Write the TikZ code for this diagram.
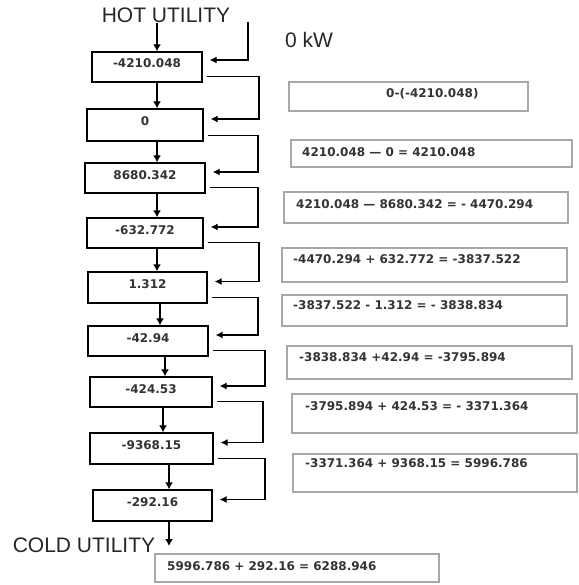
\documentclass[tikz,border=0pt]{standalone}
\usepackage{fontspec}
\setmainfont{Liberation Sans}
\newfontfamily\numfont{DejaVu Sans}
\usetikzlibrary{arrows.meta,positioning,calc}
\definecolor{NumText}{HTML}{333333}
\definecolor{EqGray}{HTML}{A8A8A8}

\begin{document}
\begin{tikzpicture}[x=1pt,y=-1pt,>=Latex,
  every node/.style={inner sep=0pt},
  cascbox/.style={draw=black, line width=1.3pt, font=\numfont\bfseries\fontsize{12}{14}\selectfont, text=NumText, text height=9pt, text depth=7pt},
  eqbox/.style={draw=EqGray, line width=1.2pt},
  eqtext/.style={anchor=west, font=\numfont\bfseries\fontsize{12}{14}\selectfont, text=NumText, text height=9pt, text depth=0pt},
  utiltext/.style={font=\fontsize{21}{25}\selectfont, text=black!85},
  arr/.style={-{Latex[length=7pt,width=8pt]}, line width=1.3pt},
  feed/.style={-{Latex[length=7pt,width=7pt]}, line width=1.1pt}]
  \useasboundingbox (0,0) rectangle (578,585);
  % utilities
  \node[utiltext] (hot) at (166,15) {HOT UTILITY};
  \node[utiltext] (cold) at (84,545) {COLD UTILITY};
  \node[utiltext] (zero) at (309,40) {0 kW};
  % cascade of intervals
  \node[cascbox, minimum width=110, minimum height=30] (b1) at (147,67) {-4210.048};
  \node[cascbox, minimum width=116, minimum height=32] (b2) at (145,125) {0};
  \node[cascbox, minimum width=120, minimum height=30] (b3) at (145,178) {8680.342};
  \node[cascbox, minimum width=116, minimum height=30] (b4) at (145,233) {-632.772};
  \node[cascbox, minimum width=119, minimum height=31] (b5) at (147.5,287.5) {1.312};
  \node[cascbox, minimum width=120, minimum height=30] (b6) at (148,341) {-42.94};
  \node[cascbox, minimum width=122, minimum height=30] (b7) at (151,392) {-424.53};
  \node[cascbox, minimum width=123, minimum height=31] (b8) at (151.5,448.5) {-9368.15};
  \node[cascbox, minimum width=119, minimum height=31] (b9) at (152.5,505.5) {-292.16};
  % heat balance boxes
  \node[eqbox, minimum width=239, minimum height=29] (r1) at (408.5,96.5) {};
  \node[eqbox, minimum width=281, minimum height=27] (r2) at (431.5,153.5) {};
  \node[eqbox, minimum width=284, minimum height=31] (r3) at (426,207.5) {};
  \node[eqbox, minimum width=285, minimum height=34] (r4) at (424.5,265) {};
  \node[eqbox, minimum width=285, minimum height=31] (r5) at (424.5,310.5) {};
  \node[eqbox, minimum width=285, minimum height=33] (r6) at (429.5,362.5) {};
  \node[eqbox, minimum width=285, minimum height=39] (r7) at (434.5,413.5) {};
  \node[eqbox, minimum width=284, minimum height=38] (r8) at (435,473) {};
  \node[eqbox, minimum width=284, minimum height=28] (r9) at (297,568) {};
  \node[eqtext] (t1) at (386,93) {0-(-4210.048)};
  \node[eqtext] (t2) at (302,152) {4210.048 — 0 = 4210.048};
  \node[eqtext] (t3) at (296,204) {4210.048 — 8680.342 = - 4470.294};
  \node[eqtext] (t4) at (293,259) {-4470.294 + 632.772 = -3837.522};
  \node[eqtext] (t5) at (293,305) {-3837.522 - 1.312 = - 3838.834};
  \node[eqtext] (t6) at (299,357) {-3838.834 +42.94 = -3795.894};
  \node[eqtext] (t7) at (305,406) {-3795.894 + 424.53 = - 3371.364};
  \node[eqtext] (t8) at (305,463) {-3371.364 + 9368.15 = 5996.786};
  \node[eqtext] (t9) at (167,566) {5996.786 + 292.16 = 6288.946};
  % flows down the cascade
  \coordinate (topfeed) at (248,22);
  \coordinate (coldend) at (169,546);
  \draw[arr] (hot.south -| 157,0) -- (b1.north -| 157,0);
  \foreach \i/\j/\ax in {1/2/157,2/3/157,3/4/157,4/5/157,5/6/160,6/7/165,7/8/163,8/9/169}
    {\draw[arr] (b\i.south -| \ax,0) -- (b\j.north -| \ax,0);}
  \draw[arr] (b9.south -| 169,0) -- (coldend);
  % residual heat carried to the next interval
  \draw[feed] (topfeed) |- ([xshift=7pt,yshift=7pt]b1.east);
  \foreach \i/\j/\rx in {1/2/259,2/3/258,3/4/258,4/5/259,5/6/258,6/7/265,7/8/263,8/9/265}
    {\coordinate (fs) at ([xshift=4pt,yshift=6pt]b\i.south east);
     \coordinate (fe) at ([xshift=7pt,yshift=6pt]b\j.east);
     \draw[feed] (fs) -| (\rx,0 |- fe) -- (fe);}
\end{tikzpicture}
\end{document}
